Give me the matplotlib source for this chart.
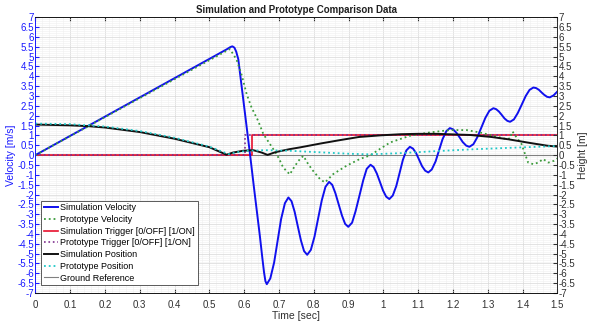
import matplotlib
matplotlib.use("Agg")
import matplotlib.pyplot as plt
from matplotlib.ticker import MultipleLocator

plt.rcParams["font.family"] = ["Liberation Sans", "DejaVu Sans"]

# Simulation velocity [m/s]
sim_vel_t = [0.0, 0.55, 0.560, 0.566, 0.572, 0.577, 0.583, 0.617, 0.628, 0.645, 0.652, 0.657, 0.661, 0.665,
             0.675, 0.686, 0.696, 0.706, 0.717, 0.727,
             0.736, 0.745, 0.754, 0.763, 0.772, 0.781,
             0.7915, 0.802, 0.8125, 0.823, 0.8335, 0.844,
             0.853, 0.862, 0.8715, 0.881, 0.890, 0.899,
             0.910, 0.920, 0.931, 0.942, 0.952, 0.963,
             0.972, 0.981, 0.990, 0.999, 1.008, 1.017,
             1.027, 1.037, 1.0465, 1.056, 1.066, 1.076,
             1.085, 1.094, 1.1025, 1.111, 1.120, 1.129,
             1.139, 1.150, 1.160, 1.170, 1.181, 1.191,
             1.200, 1.210, 1.219, 1.228, 1.238, 1.247,
             1.2585, 1.270, 1.2815, 1.293, 1.3045, 1.316,
             1.324, 1.332, 1.340, 1.348, 1.356, 1.364,
             1.375, 1.386, 1.3975, 1.409, 1.420, 1.431,
             1.439, 1.447, 1.4545, 1.462, 1.470, 1.478,
             1.489, 1.5]
sim_vel = [0.0, 5.37, 5.48, 5.52, 5.45, 5.25, 4.87, 0.0, -1.64, -4.1, -5.2, -5.95, -6.4, -6.55,
           -6.26, -5.45, -4.35, -3.25, -2.44, -2.15,
           -2.34, -2.88, -3.61, -4.33, -4.87, -5.06,
           -4.81, -4.14, -3.21, -2.29, -1.61, -1.36,
           -1.51, -1.93, -2.50, -3.07, -3.49, -3.64,
           -3.43, -2.85, -2.07, -1.28, -0.70, -0.49,
           -0.61, -0.93, -1.36, -1.80, -2.11, -2.23,
           -2.05, -1.57, -0.91, -0.24, 0.24, 0.42,
           0.33, 0.10, -0.23, -0.56, -0.79, -0.88,
           -0.73, -0.32, 0.25, 0.81, 1.22, 1.37,
           1.31, 1.13, 0.90, 0.66, 0.48, 0.42,
           0.55, 0.91, 1.40, 1.89, 2.25, 2.38,
           2.33, 2.21, 2.04, 1.86, 1.74, 1.69,
           1.81, 2.13, 2.56, 3.00, 3.31, 3.43,
           3.40, 3.31, 3.18, 3.06, 2.96, 2.93,
           3.03, 3.23]

# Prototype velocity [m/s]
proto_vel_t = [0.0, 0.545, 0.559, 0.578, 0.593, 0.607, 0.621, 0.640, 0.655, 0.674, 0.693, 0.703, 0.712,
               0.731, 0.746, 0.760, 0.770, 0.784, 0.798, 0.818, 0.832, 0.856, 0.894, 0.932, 0.961,
               1.019, 1.076, 1.133, 1.191, 1.239, 1.277, 1.316, 1.354, 1.364, 1.371, 1.383, 1.397,
               1.407, 1.416, 1.431, 1.445, 1.459, 1.474, 1.49, 1.5]
proto_vel = [0.0, 5.25, 5.38, 4.85, 4.05, 3.10, 2.42, 1.74, 1.07, 0.56, 0.05, -0.29, -0.63,
             -0.98, -0.54, -0.20, -0.04, -0.46, -0.80, -1.22, -1.39, -0.96, -0.54, -0.20, -0.02,
             0.64, 0.98, 1.15, 1.27, 1.27, 1.15, 0.98, 0.81, 0.85, 1.20, 0.89, 0.56,
             0.05, -0.38, -0.46, -0.38, -0.20, -0.38, -0.29, -0.17]

# Triggers [0/OFF] [1/ON]
sim_trig_t = [0.0, 0.623, 0.623, 1.5]
sim_trig = [0, 0, 1, 1]
proto_trig_t = [0.0, 0.603, 0.603, 1.5]
proto_trig = [0, 0, 1, 1]

# Positions [m]
sim_pos_t = [0.0, 0.1, 0.15, 0.2, 0.3, 0.4, 0.5, 0.549, 0.568, 0.597, 0.626, 0.650, 0.667, 0.69,
             0.73, 0.76, 0.82, 0.875, 0.93, 0.99, 1.05, 1.10, 1.15, 1.2, 1.25, 1.31, 1.36,
             1.42, 1.47, 1.5]
sim_pos = [1.55, 1.51, 1.47, 1.40, 1.17, 0.83, 0.40, 0.02, 0.13, 0.22, 0.25, 0.13, 0.01, 0.15,
           0.30, 0.39, 0.59, 0.76, 0.92, 1.00, 1.06, 1.08, 1.08, 1.05, 1.02, 0.92, 0.80,
           0.62, 0.48, 0.43]
proto_pos_t = [0.0, 0.1, 0.2, 0.3, 0.4, 0.5, 0.555, 0.58, 0.61, 0.66, 0.73, 0.82, 0.9, 0.96,
               1.05, 1.15, 1.25, 1.35, 1.5]
proto_pos = [1.6, 1.57, 1.45, 1.22, 0.88, 0.43, 0.05, 0.15, 0.22, 0.25, 0.22, 0.14, 0.07, 0.04,
             0.10, 0.20, 0.29, 0.36, 0.46]

ground_t = [0.0, 1.5]
ground = [0.0, 0.0]

BLUE = "#1a1aff"
DARK = "#303030"

fig = plt.figure(figsize=(6, 3.3), dpi=100)
ax = fig.add_axes([0.059, 0.112, 0.870, 0.836])
ax2 = ax.twinx()

ax.plot(ground_t, ground, color="#808080", lw=0.8, label="Ground Reference", zorder=1)
ax.plot(sim_trig_t, sim_trig, color="#e8112d", lw=1.2, label="Simulation Trigger [0/OFF] [1/ON]", zorder=2)
ax.plot(proto_trig_t, proto_trig, color="#7e2f8e", lw=1.2, ls=":", label="Prototype Trigger [0/OFF] [1/ON]", zorder=2)
ax.plot(sim_vel_t, sim_vel, color="#1010ee", lw=1.4, label="Simulation Velocity", zorder=3)
ax.plot(proto_vel_t, proto_vel, color="#3a9a3a", lw=1.3, ls=":", label="Prototype Velocity", zorder=3)
ax2.plot(sim_pos_t, sim_pos, color="#111111", lw=1.4, label="Simulation Position")
ax2.plot(proto_pos_t, proto_pos, color="#20c8c8", lw=1.3, ls=":", label="Prototype Position")

for a in (ax, ax2):
    a.set_xlim(0, 1.5)
    a.set_ylim(-7, 7)
    a.yaxis.set_major_locator(MultipleLocator(0.5))

ax.xaxis.set_major_locator(MultipleLocator(0.1))
ax.xaxis.set_minor_locator(MultipleLocator(0.02))
ax.yaxis.set_minor_locator(MultipleLocator(0.1))
ax.grid(True, which="major", color="#d8d8d8", lw=0.5)
ax.grid(True, which="minor", color="#efefef", lw=0.4)
ax.set_axisbelow(True)

ax.tick_params(axis="x", which="major", direction="in", top=True, length=3, labelsize=7, colors=DARK, pad=5)
ax.tick_params(axis="x", which="minor", length=0)
ax.tick_params(axis="y", which="major", direction="in", length=3, labelsize=7, colors=BLUE, pad=1)
ax.tick_params(axis="y", which="minor", length=0)
ax2.tick_params(axis="y", direction="in", length=3, labelsize=7, colors=DARK, pad=1)

ax.xaxis.set_major_formatter(plt.FuncFormatter(lambda v, p: f"{v:g}"))
ax.yaxis.set_major_formatter(plt.FuncFormatter(lambda v, p: f"{v:g}"))
ax2.yaxis.set_major_formatter(plt.FuncFormatter(lambda v, p: f"{v:g}"))

for s in ("top", "bottom"):
    ax.spines[s].set_color("#999999")
ax.spines["left"].set_color(BLUE)
ax2.spines["left"].set_color(BLUE)
ax2.spines["right"].set_color(DARK)
for s in ax.spines.values():
    s.set_linewidth(0.6)
for s in ax2.spines.values():
    s.set_linewidth(0.6)

ax.set_xlabel("Time [sec]", fontsize=7.5, color=DARK, labelpad=1)
ax.set_ylabel("Velocity [m/s]", fontsize=7.5, color=BLUE, labelpad=1)
ax2.set_ylabel("Height [m]", fontsize=7.5, color=DARK, labelpad=2)
ax.set_title("Simulation and Prototype Comparison Data", fontsize=7, fontweight="bold", color="#202020", pad=3)

h1, l1 = ax.get_legend_handles_labels()
h2, l2 = ax2.get_legend_handles_labels()
handles = dict(zip(l1 + l2, h1 + h2))
order = ["Simulation Velocity", "Prototype Velocity", "Simulation Trigger [0/OFF] [1/ON]",
         "Prototype Trigger [0/OFF] [1/ON]", "Simulation Position", "Prototype Position",
         "Ground Reference"]
leg = ax2.legend([handles[k] for k in order], order, loc="lower left", fontsize=6.5,
                 handlelength=1.5, handletextpad=0.3, labelspacing=0.3, borderpad=0.3,
                 fancybox=False, edgecolor="#404040", framealpha=1, bbox_to_anchor=(0.003, 0.012))
leg.get_frame().set_linewidth(0.6)

fig.savefig("out.png", dpi=100)
